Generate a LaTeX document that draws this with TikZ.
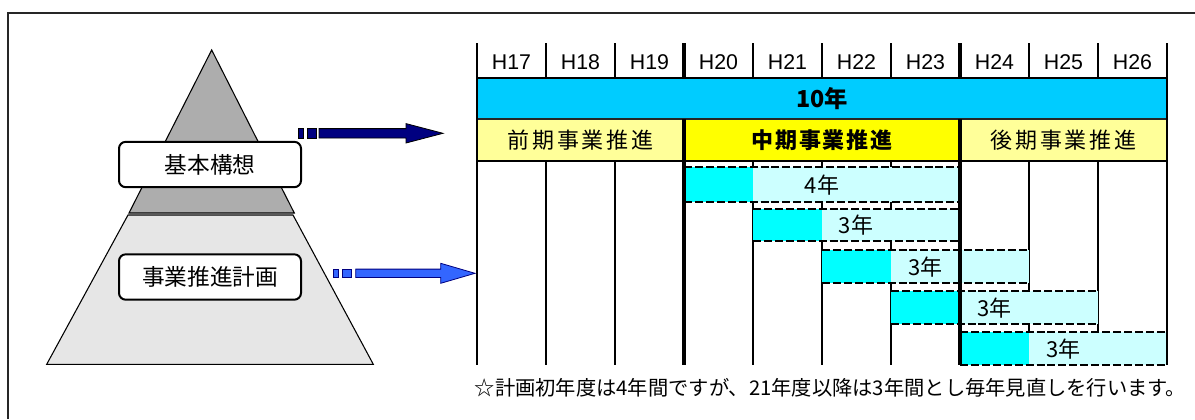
\documentclass[tikz,border=0pt]{standalone}
\usepackage{fontspec}
\setmainfont{Noto Sans CJK JP}
\newfontfamily\lat{Liberation Sans}
\definecolor{band}{HTML}{00CCFF}
\definecolor{ltyel}{HTML}{FFFF99}
\definecolor{yel}{HTML}{FFFF00}
\definecolor{cy}{HTML}{00FFFF}
\definecolor{ltcy}{HTML}{CCFFFF}
\definecolor{navyc}{HTML}{000080}
\definecolor{bluearr}{HTML}{3366FF}
\definecolor{pyrtop}{HTML}{ADADAD}
\definecolor{pyrbot}{HTML}{E6E6E6}
\begin{document}
\begin{tikzpicture}[x=0.75pt,y=-0.75pt,
  gline/.style={line width=1.5pt,black},
  gthick/.style={line width=3pt,black},
  dashl/.style={line width=1.6pt,black,dash pattern=on 6pt off 2.2pt},
  hdr/.style={inner sep=0pt,font=\lat\fontsize{16}{18}\selectfont},
  seg/.style={inner sep=0pt,font=\fontsize{16.5}{18}\selectfont\addfontfeature{LetterSpace=12}},
  segb/.style={inner sep=0pt,font=\fontsize{16.5}{18}\selectfont\bfseries\addfontfeature{LetterSpace=8}},
  barlbl/.style={inner sep=0pt,font=\fontsize{16.5}{18}\selectfont},
  boxn/.style={draw=black,line width=1.5pt,fill=white,rounded corners=5pt,inner sep=0pt,
     minimum width=136.5pt,minimum height=34pt,font=\fontsize{17}{19}\selectfont},
  note/.style={inner sep=0pt,font=\fontsize{15.2}{17}\selectfont}]
\useasboundingbox (0,0) rectangle (1195,419);
\fill[white] (0,0) rectangle (1195,419);
% outer frame (open at right and bottom)
\draw[line width=1.1pt,black!85] (8,419) -- (8,13) -- (1195,13);

% ---------- pyramid ----------
\draw[line width=0.8pt,fill=pyrbot] (128,215) -- (293,215) -- (373.3,364.3) -- (46.7,364.3) -- cycle;
\draw[line width=0.8pt,fill=pyrtop] (211.7,50) -- (294.3,213) -- (129,213) -- cycle;
\node[boxn] (kihon) at (210,164.5) {基本構想};
\node[boxn] (jigyo) at (210,277) {事業推進計画};

% ---------- table fills ----------
\fill[band] (477,78) rectangle (1167,119);
\fill[ltyel] (477,119) rectangle (684,161);
\fill[yel] (684,119) rectangle (960,161);
\fill[ltyel] (960,119) rectangle (1167,161);
\draw[gline] (477,78) -- (1167,78);
\draw[line width=1.8pt,black!85] (477,119) -- (1167,119);
\draw[line width=2.2pt] (477,161) -- (1167,161);
\foreach \x in {546,615,753,822,891,1029,1098} {
  \draw[gline] (\x,43) -- (\x,78);
  \draw[gline] (\x,161) -- (\x,365);
}

% header labels
\foreach \i [count=\k from 0] in {17,...,26}
  \node[hdr] (h\i) at ({511.5+69*\k},62) {H\i};
\node[inner sep=0pt,font=\fontsize{17.5}{19}\selectfont\bfseries] (ten) at (822,99) {10年};
\node[seg] (zenki) at (580.5,140) {前期事業推進};
\node[segb] (chuki) at (822,140) {中期事業推進};
\node[seg] (koki) at (1063.5,140) {後期事業推進};

% ---------- bars ----------
\foreach \a/\b/\e/\t/\c in {684/753/960/167/202, 753/822/960/209/241, 822/891/1029/250/283, 891/960/1098/291/324, 960/1029/1167/332/365} {
  \fill[cy] (\a,\t) rectangle (\b,\c);
  \fill[ltcy] (\b,\t) rectangle (\e,\c);
  \draw[dashl] (\a,\t) -- (\e,\t);
  \draw[dashl] (\a,\c) -- (\e,\c);
}
\node[barlbl] (y1) at (822,185) {4年};
\node[barlbl] (y2) at (856,225.5) {3年};
\node[barlbl] (y3) at (925.5,267) {3年};
\node[barlbl] (y4) at (994.5,308) {3年};
\node[barlbl] (y5) at (1063.5,349) {3年};

% thick dividers and outer borders on top
\foreach \x in {684,960} {
  \draw[gthick] (\x,43) -- (\x,78);
  \draw[gthick] (\x,119) -- (\x,365);
}
\draw[gline] (477,43) -- (477,365);
\draw[gline] (1167,43) -- (1167,365);

% ---------- arrows ----------
\coordinate (a1s) at (298,133.3);
\coordinate (a1e) at (443,133.3);
\coordinate (a2s) at (333.3,273.3);
\coordinate (a2e) at (475,273.3);
\begin{scope}[shift={(a1s)}]
  \draw[fill=navyc,draw=black,line width=0.6pt] (0,-4.7) rectangle (5,4.7);
  \draw[fill=navyc,draw=black,line width=0.6pt] (9,-4.7) rectangle (18,4.7);
  \draw[fill=navyc,draw=black,line width=0.6pt,line join=miter]
    (21,-4.7) -- (108,-4.7) -- (108,-9.7) -- (145,0) -- (108,9.7) -- (108,4.7) -- (21,4.7) -- cycle;
\end{scope}
\begin{scope}[shift={(a2s)}]
  \draw[fill=bluearr,draw=navyc,line width=0.6pt] (0,-4.2) rectangle (5,4.2);
  \draw[fill=bluearr,draw=navyc,line width=0.6pt] (9,-4.2) rectangle (17.7,4.2);
  \draw[fill=bluearr,draw=navyc,line width=0.6pt,line join=miter]
    (22.4,-4.2) -- (107.4,-4.2) -- (107.4,-10) -- (141.7,0) -- (107.4,10) -- (107.4,4.2) -- (22.4,4.2) -- cycle;
\end{scope}

% ---------- note ----------
\node[note] (nt) at (830.5,388) {☆計画初年度は4年間ですが、21年度以降は3年間とし毎年見直しを行います。};
\end{tikzpicture}
\end{document}
